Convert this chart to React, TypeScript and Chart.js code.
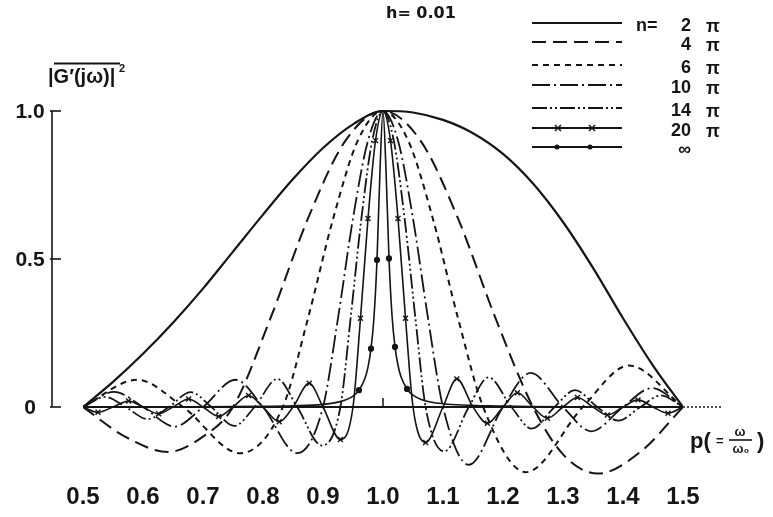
import React, { useEffect, useRef } from "react";
import { Chart, registerables } from "chart.js";

Chart.register(...registerables);

const INK = "#151515";

// ---- axes / labels ----
const X_TICKS = [0.5, 0.6, 0.7, 0.8, 0.9, 1.0, 1.1, 1.2, 1.3, 1.4, 1.5];
const X_TICK_LABELS = ["0.5", "0.6", "0.7", "0.8", "0.9", "1.0", "1.1", "1.2", "1.3", "1.4", "1.5"];
const Y_TICKS = [0, 0.5, 1.0];
const Y_TICK_LABELS = ["0", "0.5", "1.0"];
const SERIES_N = ["2", "4", "6", "10", "14", "20", "∞"];
const TITLE = "h= 0.01";

// ---- series (p, |G'(jw)|^2) ----
const P_2 = [0.5, 0.55, 0.6, 0.65, 0.7, 0.75, 0.8, 0.85, 0.9, 0.95, 1.0, 1.05, 1.1, 1.15, 1.2, 1.25, 1.3, 1.35, 1.4, 1.45, 1.5];
const G_2 = [0, 0.085, 0.18, 0.285, 0.4, 0.525, 0.65, 0.77, 0.875, 0.955, 1.0, 0.995, 0.97, 0.925, 0.855, 0.755, 0.625, 0.47, 0.3, 0.14, 0];

const P_4 = [0.5, 0.57, 0.642, 0.7, 0.75, 0.8125, 0.875, 0.9375, 1.0, 1.0625, 1.125, 1.1875, 1.25, 1.3, 1.358, 1.43, 1.5];
const G_4 = [0, -0.1, -0.152, -0.1, 0, 0.3, 0.637, 0.9, 1.0, 0.9, 0.637, 0.3, 0, -0.16, -0.225, -0.15, 0];

const P_6 = [0.5, 0.59, 0.667, 0.762, 0.833, 0.875, 0.917, 0.958, 1.0, 1.042, 1.083, 1.125, 1.167, 1.238, 1.333, 1.41, 1.5];
const G_6 = [0, 0.092, 0, -0.156, 0, 0.3, 0.637, 0.9, 1.0, 0.9, 0.637, 0.3, 0, -0.22, 0, 0.14, 0];

const P_10 = [0.5, 0.552, 0.6, 0.653, 0.7, 0.754, 0.8, 0.857, 0.9, 0.925, 0.95, 0.975, 1.0, 1.025, 1.05, 1.075, 1.1, 1.143, 1.2, 1.246, 1.3, 1.347, 1.4, 1.448, 1.5];
const G_10 = [0, 0.051, 0, -0.066, 0, 0.092, 0, -0.156, 0, 0.3, 0.637, 0.9, 1.0, 0.9, 0.637, 0.3, 0, -0.195, 0, 0.115, 0, -0.082, 0, 0.064, 0];

const P_14 = [0.5, 0.537, 0.571, 0.608, 0.643, 0.68, 0.714, 0.752, 0.786, 0.824, 0.857, 0.898, 0.929, 0.946, 0.964, 0.982, 1.0, 1.018, 1.036, 1.054, 1.071, 1.102, 1.143, 1.176, 1.214, 1.248, 1.286, 1.32, 1.357, 1.392, 1.429, 1.463, 1.5];
const G_14 = [0, 0.034, 0, -0.041, 0, 0.05, 0, -0.064, 0, 0.095, 0, -0.13, 0, 0.3, 0.637, 0.9, 1.0, 0.9, 0.637, 0.3, 0, -0.15, 0, 0.1, 0, -0.073, 0, 0.057, 0, -0.046, 0, 0.039, 0];

const P_20 = [0.5, 0.525, 0.55, 0.576, 0.6, 0.626, 0.65, 0.676, 0.7, 0.726, 0.75, 0.776, 0.8, 0.827, 0.85, 0.877, 0.9, 0.929, 0.95, 0.9625, 0.975, 0.9875, 1.0, 1.0125, 1.025, 1.0375, 1.05, 1.071, 1.1, 1.123, 1.15, 1.174, 1.2, 1.224, 1.25, 1.274, 1.3, 1.324, 1.35, 1.374, 1.4, 1.425, 1.45, 1.475, 1.5];
const G_20 = [0, -0.018, 0, 0.02, 0, -0.023, 0, 0.027, 0, -0.032, 0, 0.039, 0, -0.05, 0, 0.08, 0, -0.11, 0, 0.3, 0.637, 0.9, 1.0, 0.9, 0.637, 0.3, 0, -0.12, 0, 0.095, 0, -0.055, 0, 0.048, 0, -0.038, 0, 0.032, 0, -0.027, 0, 0.024, 0, -0.021, 0];

const P_INF = [0.5, 0.6, 0.7, 0.8, 0.85, 0.9, 0.93, 0.95, 0.96, 0.97, 0.975, 0.98, 0.985, 0.99, 0.995, 1.0, 1.005, 1.01, 1.015, 1.02, 1.025, 1.03, 1.04, 1.05, 1.07, 1.1, 1.2, 1.3, 1.4, 1.5];
const G_INF = [0, 0.001, 0.001, 0.002, 0.004, 0.009, 0.019, 0.037, 0.057, 0.097, 0.135, 0.197, 0.304, 0.497, 0.799, 1.0, 0.8, 0.502, 0.31, 0.203, 0.141, 0.102, 0.061, 0.04, 0.021, 0.011, 0.003, 0.001, 0.001, 0];
const INF_DOTS = [0.96, 0.98, 0.99, 1.01, 1.02, 1.04];

// ---- styles ----
const DASH_4 = [14, 7];
const DASH_6 = [6, 5];
const DASH_10 = [18, 4, 2, 4];
const DASH_14 = [15, 3, 2, 3, 2, 3];

const pts = (xs: number[], ys: number[]) => xs.map((x, i) => ({ x, y: ys[i] }));

const F_BIG = "bold 24px 'Liberation Sans', Arial, sans-serif";
const F_Y = "bold 21px 'Liberation Sans', Arial, sans-serif";
const F_LEG = "bold 18px 'Liberation Sans', Arial, sans-serif";

const decor = {
  id: "decor",
  beforeDatasetsDraw(chart: any) {
    const { ctx } = chart;
    const xs = chart.scales.x;
    const ys = chart.scales.y;
    const y0 = ys.getPixelForValue(0);
    const xL = xs.getPixelForValue(0.5);
    const xR = xs.getPixelForValue(1.5);
    ctx.save();
    ctx.strokeStyle = INK;
    ctx.lineCap = "butt";
    ctx.lineWidth = 2.2;
    ctx.beginPath();
    ctx.moveTo(xL, y0);
    ctx.lineTo(xR, y0);
    ctx.stroke();
    ctx.setLineDash([2, 2]);
    ctx.lineWidth = 1.5;
    ctx.beginPath();
    ctx.moveTo(xR, y0);
    ctx.lineTo(xR + 38, y0);
    ctx.stroke();
    ctx.setLineDash([]);
    const x1 = xs.getPixelForValue(1.0);
    ctx.lineWidth = 1.5;
    ctx.beginPath();
    ctx.moveTo(x1, y0);
    ctx.lineTo(x1, y0 - 9);
    ctx.stroke();
    const ya = xL - 31;
    const yTop = ys.getPixelForValue(1.0);
    ctx.lineWidth = 1.6;
    ctx.beginPath();
    ctx.moveTo(ya, yTop);
    ctx.lineTo(ya, y0);
    ctx.stroke();
    Y_TICKS.forEach((v) => {
      const py = ys.getPixelForValue(v);
      ctx.beginPath();
      ctx.moveTo(ya - 2, py);
      ctx.lineTo(ya + 9, py);
      ctx.stroke();
    });
    ctx.restore();
  },
  afterDraw(chart: any) {
    const { ctx } = chart;
    const xs = chart.scales.x;
    const ys = chart.scales.y;
    const xL = xs.getPixelForValue(0.5);
    const ya = xL - 31;
    ctx.save();
    ctx.fillStyle = INK;
    ctx.strokeStyle = INK;
    ctx.font = F_BIG;
    ctx.textAlign = "center";
    ctx.textBaseline = "middle";
    X_TICKS.forEach((v, i) => {
      ctx.fillText(X_TICK_LABELS[i], xs.getPixelForValue(v), 497);
    });
    ctx.font = F_Y;
    Y_TICKS.forEach((v, i) => {
      ctx.fillText(Y_TICK_LABELS[i], ya - 22, ys.getPixelForValue(v) + 1);
    });
    ctx.textAlign = "left";
    ctx.textBaseline = "alphabetic";
    ctx.font = "bold 20px 'Liberation Sans', Arial, sans-serif";
    ctx.fillText("|G′(jω)|", 48, 83);
    ctx.font = "bold 11px 'Liberation Sans', Arial, sans-serif";
    ctx.fillText("2", 119, 72);
    ctx.lineWidth = 2;
    ctx.beginPath();
    ctx.moveTo(54, 63.5);
    ctx.lineTo(120, 63.5);
    ctx.stroke();
    ctx.font = "bold 16px 'DejaVu Sans', sans-serif";
    ctx.textBaseline = "middle";
    ctx.fillText(TITLE, 386, 14);
    ctx.font = "bold 22px 'Liberation Sans', Arial, sans-serif";
    ctx.textBaseline = "alphabetic";
    ctx.fillText("p(", 690, 448);
    ctx.font = "bold 13px 'Liberation Sans', Arial, sans-serif";
    ctx.fillText("=", 716, 445);
    ctx.textAlign = "center";
    ctx.fillText("ω", 740, 436);
    ctx.fillText("ω₀", 741, 453);
    ctx.lineWidth = 1.6;
    ctx.beginPath();
    ctx.moveTo(729, 440);
    ctx.lineTo(752, 440);
    ctx.stroke();
    ctx.textAlign = "left";
    ctx.font = "bold 22px 'Liberation Sans', Arial, sans-serif";
    ctx.fillText(")", 757, 448);

    const rows = [23, 42, 65, 85, 108, 128, 147];
    const dashes = [[], DASH_4, DASH_6, DASH_10, DASH_14, [], []];
    rows.forEach((ry, i) => {
      ctx.lineWidth = 2;
      ctx.setLineDash(dashes[i]);
      ctx.beginPath();
      ctx.moveTo(532, ry);
      ctx.lineTo(622, ry);
      ctx.stroke();
      ctx.setLineDash([]);
      if (i === 5) {
        [558, 592].forEach((mx) => {
          ctx.lineWidth = 1.5;
          ctx.beginPath();
          ctx.moveTo(mx - 3, ry - 3);
          ctx.lineTo(mx + 3, ry + 3);
          ctx.moveTo(mx + 3, ry - 3);
          ctx.lineTo(mx - 3, ry + 3);
          ctx.stroke();
        });
      }
      if (i === 6) {
        [557, 590].forEach((mx) => {
          ctx.beginPath();
          ctx.arc(mx, ry, 2.5, 0, Math.PI * 2);
          ctx.fill();
        });
      }
      ctx.font = F_LEG;
      ctx.textBaseline = "middle";
      ctx.textAlign = "right";
      ctx.fillText(SERIES_N[i], 691, ry + 3);
      if (i < 6) {
        ctx.textAlign = "left";
        ctx.fillText("π", 706, ry + 4);
      }
    });
    ctx.textAlign = "left";
    ctx.font = F_LEG;
    ctx.fillText("n=", 636, rows[0] + 3);
    ctx.restore();
  },
};

const base = {
  borderColor: INK,
  backgroundColor: INK,
  borderWidth: 2,
  pointRadius: 0,
  fill: false,
  cubicInterpolationMode: "monotone" as const,
};

export default function App() {
  const ref = useRef<HTMLCanvasElement>(null);
  useEffect(() => {
    if (!ref.current) return;
    const chart = new Chart(ref.current, {
      type: "line",
      data: {
        datasets: [
          { ...base, label: "2π", data: pts(P_2, G_2), borderWidth: 2.2 },
          { ...base, label: "4π", data: pts(P_4, G_4), borderDash: DASH_4 },
          { ...base, label: "6π", data: pts(P_6, G_6), borderDash: DASH_6 },
          { ...base, label: "10π", data: pts(P_10, G_10), borderDash: DASH_10, borderWidth: 1.8 },
          { ...base, label: "14π", data: pts(P_14, G_14), borderDash: DASH_14, borderWidth: 1.8 },
          {
            ...base,
            label: "20π",
            data: pts(P_20, G_20),
            borderWidth: 1.6,
            pointStyle: "crossRot",
            pointBorderWidth: 1.4,
            pointRadius: (c: any) => (c.raw && c.raw.y !== 0 && c.raw.x !== 1 ? 3.5 : 0),
          },
          {
            ...base,
            label: "∞",
            data: pts(P_INF, G_INF),
            borderWidth: 1.6,
            pointStyle: "circle",
            pointRadius: (c: any) => (c.raw && INF_DOTS.includes(c.raw.x) ? 2.3 : 0),
          },
        ],
      },
      options: {
        animation: false,
        responsive: false,
        devicePixelRatio: 1,
        layout: { padding: { left: 83, right: 90, top: 0, bottom: 0 } },
        scales: {
          x: { type: "linear", min: 0.5, max: 1.5, display: false },
          y: { type: "linear", min: -0.3716, max: 1.375, display: false },
        },
        plugins: { legend: { display: false }, tooltip: { enabled: false } },
      },
      plugins: [decor],
    });
    return () => chart.destroy();
  }, []);
  return (
    <div style={{ position: "absolute", left: 0, top: 0, width: 773, height: 517, background: "#fff" }}>
      <canvas ref={ref} width={773} height={517} style={{ display: "block", width: 773, height: 517 }} />
    </div>
  );
}
